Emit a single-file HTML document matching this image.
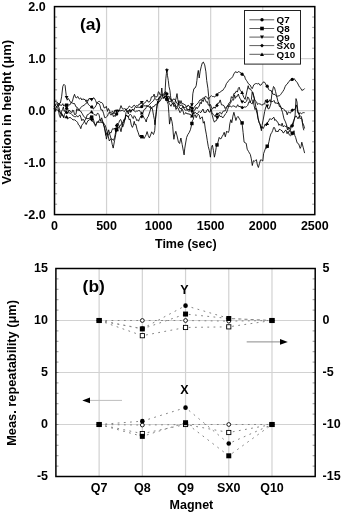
<!DOCTYPE html>
<html><head><meta charset="utf-8"><title>Figure</title>
<style>html,body{margin:0;padding:0;background:#fff;}svg{display:block;}</style>
</head><body>
<svg width="342" height="514" viewBox="0 0 342 514">
<rect width="342" height="514" fill="#fff"/>
<path d="M106.56 6.60V214.60M158.62 6.60V214.60M210.68 6.60V214.60M262.74 6.60V214.60M54.50 58.60H314.80M54.50 110.60H314.80M54.50 162.60H314.80" stroke="#d2d2d2" stroke-width="1.2" fill="none"/>
<path d="M54.50 17.00h2.6M314.80 17.00h-2.6M54.50 27.40h2.6M314.80 27.40h-2.6M54.50 37.80h2.6M314.80 37.80h-2.6M54.50 48.20h2.6M314.80 48.20h-2.6M54.50 58.60h2.6M314.80 58.60h-2.6M54.50 69.00h2.6M314.80 69.00h-2.6M54.50 79.40h2.6M314.80 79.40h-2.6M54.50 89.80h2.6M314.80 89.80h-2.6M54.50 100.20h2.6M314.80 100.20h-2.6M54.50 110.60h2.6M314.80 110.60h-2.6M54.50 121.00h2.6M314.80 121.00h-2.6M54.50 131.40h2.6M314.80 131.40h-2.6M54.50 141.80h2.6M314.80 141.80h-2.6M54.50 152.20h2.6M314.80 152.20h-2.6M54.50 162.60h2.6M314.80 162.60h-2.6M54.50 173.00h2.6M314.80 173.00h-2.6M54.50 183.40h2.6M314.80 183.40h-2.6M54.50 193.80h2.6M314.80 193.80h-2.6M54.50 204.20h2.6M314.80 204.20h-2.6" stroke="#808080" stroke-width="0.8" fill="none"/>
<polyline points="54.0,101.1 54.9,101.8 55.8,101.1 56.6,102.3 57.5,102.3 58.4,106.1 59.3,108.5 60.1,112.1 61.0,113.1 61.9,115.9 62.8,115.5 63.6,117.8 64.5,114.4 65.7,112.2 66.6,108.1 67.5,107.9 68.4,111.8 69.3,110.0 70.2,111.5 71.0,111.8 71.9,112.6 72.8,110.0 73.6,110.7 74.5,114.5 76.0,114.2 76.8,108.7 77.7,110.4 79.3,109.8 80.8,107.4 81.6,106.7 82.4,106.2 84.0,105.3 85.6,103.8 86.4,103.4 87.2,101.6 88.2,104.3 89.3,105.3 90.3,106.3 91.4,106.4 92.3,105.7 93.2,109.1 94.8,107.5 96.0,105.5 97.2,103.0 98.1,103.3 99.0,103.6 100.0,105.7 101.1,110.0 102.3,109.9 103.5,113.2 104.7,117.7 105.8,117.5 106.7,116.7 107.5,116.1 108.4,113.4 109.3,112.2 110.2,114.3 111.1,115.2 112.2,112.8 113.4,116.6 114.2,115.4 115.1,116.6 116.3,111.9 117.5,113.1 118.7,110.0 119.8,110.8 121.0,110.9 122.2,110.2 123.3,110.9 124.5,111.6 126.0,108.8 127.0,111.3 127.9,112.2 128.9,110.0 129.9,109.2 130.8,111.7 131.8,109.9 132.8,109.4 133.8,110.1 134.8,107.7 135.8,106.7 136.7,108.0 137.7,106.9 138.8,107.4 140.0,107.3 140.9,107.6 141.8,106.9 142.9,104.0 144.1,105.9 145.3,105.9 146.5,105.6 147.7,106.6 148.8,105.2 149.9,104.1 151.1,102.8 152.3,101.6 153.5,100.7 154.7,98.3 155.8,99.3 157.0,100.2 158.2,99.0 159.3,97.3 160.5,95.9 161.4,95.9 162.3,95.4 163.2,94.7 164.0,93.4 165.0,92.1 166.0,91.7 167.0,97.3 168.0,96.7 169.0,96.0 170.0,99.5 171.0,98.6 172.0,101.1 173.0,99.1 174.0,99.1 175.0,99.5 176.0,101.7 177.0,103.6 178.0,104.4 179.0,100.5 180.0,103.8 181.0,100.6 182.0,103.9 183.0,103.6 184.0,104.3 185.0,104.8 186.0,105.6 187.0,107.0 188.0,105.0 189.0,105.8 190.0,107.6 191.1,107.1 192.1,109.3 193.2,109.5 194.2,107.2 195.2,105.9 196.2,104.7 197.2,104.0 198.2,102.8 199.2,101.0 200.2,99.7 201.2,100.5 202.3,98.4 203.3,97.9 204.3,98.5 205.3,96.3 206.3,96.9 207.3,97.6 208.3,99.3 209.4,97.8 210.4,96.6 211.4,95.6 212.4,96.6 213.4,96.4 214.0,97.1 215.2,96.5 216.5,95.3 217.5,94.1 218.6,92.6 219.6,92.5 220.6,92.0 221.7,90.6 222.7,90.5 223.9,88.7 225.2,87.0 226.4,83.6 227.7,82.0 228.9,80.4 230.2,79.0 231.4,78.3 232.7,76.7 233.9,73.9 235.2,72.0 236.1,71.6 237.0,72.9 238.2,71.6 239.5,72.0 240.8,72.7 242.0,74.6 243.2,75.4 244.5,75.9 245.4,78.9 246.4,80.4 247.3,81.7 248.2,83.5 249.1,84.2 250.1,85.0 251.1,87.1 252.2,88.7 253.0,86.8 253.8,84.8 255.4,83.7 256.5,83.5 257.6,83.9 258.7,83.3 259.8,85.1 260.9,85.2 262.0,83.7 263.1,82.2 264.2,81.9 265.2,83.1 266.3,85.6 267.4,85.6 268.5,89.4 269.4,90.1 270.2,90.6 271.0,90.2 271.8,92.3 272.9,94.2 274.0,94.3 275.1,94.5 276.1,95.9 277.0,96.4 277.8,96.0 279.4,95.8 280.5,94.7 281.6,93.2 282.8,91.5 284.0,89.6 285.1,86.7 286.2,84.8 287.3,84.0 288.3,82.2 289.2,81.6 290.2,79.8 291.2,80.5 292.2,79.5 293.1,80.0 294.1,78.5 295.1,80.0 296.0,81.2 297.0,82.2 298.0,84.0 298.9,85.9 299.9,87.5 300.9,88.4 301.9,90.5 302.9,89.9 303.8,89.5 304.6,88.5" fill="none" stroke="#000" stroke-width="0.85" stroke-linejoin="round"/>
<circle cx="66.6" cy="108.3" r="1.6" fill="#000"/>
<circle cx="91.7" cy="107.0" r="1.6" fill="#000"/>
<circle cx="116.7" cy="114.1" r="1.6" fill="#000"/>
<circle cx="141.8" cy="106.6" r="1.6" fill="#000"/>
<circle cx="166.9" cy="93.8" r="1.6" fill="#000"/>
<circle cx="191.9" cy="108.0" r="1.6" fill="#000"/>
<circle cx="217.0" cy="94.8" r="1.6" fill="#000"/>
<circle cx="242.1" cy="74.2" r="1.6" fill="#000"/>
<circle cx="267.2" cy="86.2" r="1.6" fill="#000"/>
<circle cx="292.2" cy="79.4" r="1.6" fill="#000"/>
<polyline points="54.0,106.9 55.0,105.6 55.9,105.6 56.9,107.3 57.9,104.8 58.8,103.1 59.8,105.3 60.8,105.0 61.8,105.4 62.8,103.7 63.8,106.2 64.7,104.9 65.7,105.8 66.6,105.6 67.8,105.0 69.0,105.0 70.2,104.6 71.4,102.0 73.0,103.6 74.5,103.5 76.0,106.9 77.5,107.6 79.0,110.3 80.5,111.0 82.0,113.3 83.5,116.0 85.0,117.8 86.5,118.6 88.0,118.6 89.5,118.5 90.5,116.3 91.4,116.2 92.3,119.1 93.2,118.5 94.4,123.1 95.6,125.1 96.4,123.6 97.2,122.1 98.1,121.8 99.0,122.6 100.0,121.9 101.1,122.5 102.3,122.3 103.5,122.8 104.3,124.2 105.2,125.2 106.4,128.8 107.5,132.7 108.4,135.1 109.3,134.3 110.2,132.4 111.1,132.8 111.9,130.2 112.8,128.4 113.7,129.2 114.6,128.1 115.8,132.0 116.9,129.4 117.8,126.5 118.7,127.7 119.6,126.3 120.4,125.7 121.6,123.6 122.7,122.9 123.9,119.4 125.1,119.4 126.0,115.1 127.2,115.8 128.3,116.5 129.2,119.9 130.1,118.9 131.3,125.1 132.4,127.4 133.3,125.4 134.2,121.3 135.1,124.9 135.9,124.3 137.1,129.7 138.3,132.8 139.5,136.7 140.3,135.1 141.2,136.4 142.1,137.2 143.0,136.0 144.1,138.5 145.3,136.4 146.2,134.6 147.1,131.6 148.2,135.4 149.4,137.9 150.6,135.0 151.7,131.8 152.6,133.4 153.5,134.5 154.7,130.7 155.2,124.1 155.8,116.2 156.4,111.5 157.0,106.7 157.8,101.5 158.7,98.9 159.9,97.0 161.1,95.7 161.9,94.2 162.8,95.7 163.7,95.3 164.6,93.9 166.0,93.1 167.1,101.7 168.2,104.3 168.9,113.7 169.5,124.1 170.8,117.0 172.0,121.7 172.7,126.3 173.3,134.0 173.9,139.3 174.6,134.8 175.8,131.3 177.1,136.0 178.4,142.0 179.6,143.5 180.9,138.0 182.2,144.6 183.4,151.2 184.1,154.9 184.7,148.9 185.3,145.0 186.6,137.5 187.8,134.6 189.1,132.7 190.4,129.8 191.6,124.9 192.3,120.8 193.2,119.5 194.2,115.3 195.2,114.8 196.2,117.7 197.2,115.6 198.2,114.2 199.2,115.2 200.2,119.1 201.2,117.6 202.3,116.9 203.3,123.2 204.3,121.5 205.3,128.9 206.3,134.2 207.3,140.7 208.3,146.6 209.4,150.7 210.4,157.2 211.4,147.4 212.4,145.2 213.4,150.3 214.4,157.2 215.4,152.7 216.2,147.5 217.1,145.3 218.1,141.8 219.2,137.4 220.2,138.8 221.2,138.6 222.2,136.3 223.2,134.8 224.2,132.3 225.3,136.8 226.7,131.1 228.2,132.6 229.0,130.8 229.8,123.9 230.8,119.7 231.8,122.7 232.9,116.1 233.9,112.3 234.9,116.3 235.9,120.5 236.9,117.6 238.0,116.4 239.0,118.1 240.0,119.8 241.1,121.6 242.1,123.4 243.1,132.5 244.1,142.1 245.1,142.8 246.2,143.3 247.2,149.2 248.6,151.6 249.4,153.0 250.3,154.4 251.3,158.8 252.3,165.5 253.4,160.7 254.4,161.2 255.4,160.5 256.4,159.7 257.4,165.1 258.4,167.5 259.4,163.7 260.5,159.9 261.6,160.1 262.8,161.0 263.6,153.6 264.5,151.1 265.7,147.7 266.9,148.2 267.9,146.0 269.0,141.5 269.9,137.2 270.8,134.0 271.8,132.5 272.7,130.4 273.6,127.5 274.6,127.7 275.8,131.7 277.0,131.0 278.0,131.9 279.0,129.6 280.0,129.2 281.0,130.4 282.0,130.6 283.0,132.8 284.0,132.6 285.0,130.6 286.0,130.1 287.1,133.8 288.1,131.3 289.2,134.8 290.4,135.7 291.7,134.8 292.9,134.7 294.0,130.7 294.8,135.6 295.6,137.3 297.1,142.8 298.7,143.9 300.2,148.4 301.0,146.7 301.8,142.2 303.3,147.9 304.6,153.1" fill="none" stroke="#000" stroke-width="0.85" stroke-linejoin="round"/>
<rect x="64.9" y="103.5" width="3.4" height="3.4" fill="#000"/>
<rect x="90.0" y="115.4" width="3.4" height="3.4" fill="#000"/>
<rect x="115.0" y="128.0" width="3.4" height="3.4" fill="#000"/>
<rect x="140.1" y="135.0" width="3.4" height="3.4" fill="#000"/>
<rect x="165.2" y="97.5" width="3.4" height="3.4" fill="#000"/>
<rect x="190.2" y="121.8" width="3.4" height="3.4" fill="#000"/>
<rect x="215.3" y="143.2" width="3.4" height="3.4" fill="#000"/>
<rect x="240.4" y="121.2" width="3.4" height="3.4" fill="#000"/>
<rect x="265.5" y="144.5" width="3.4" height="3.4" fill="#000"/>
<rect x="290.5" y="131.4" width="3.4" height="3.4" fill="#000"/>
<polyline points="54.0,104.6 55.1,104.9 56.3,103.6 57.5,105.1 58.7,106.1 59.5,103.1 60.4,103.0 61.6,96.8 62.8,86.4 63.9,84.3 65.1,85.5 65.7,91.1 66.3,95.8 67.2,100.2 68.2,98.4 69.3,100.0 70.3,101.9 71.3,102.8 72.4,101.3 73.5,97.0 74.5,94.3 75.6,97.5 76.7,97.9 77.7,96.4 79.3,99.1 80.8,97.9 81.8,100.0 82.9,98.7 84.0,99.6 85.0,99.4 86.1,101.8 86.9,99.8 87.7,101.3 89.3,98.2 90.3,99.5 91.4,99.3 92.5,99.2 93.5,97.7 94.5,98.4 95.6,100.6 96.7,103.4 97.7,102.0 98.6,101.5 99.6,101.3 100.5,102.6 101.7,102.5 102.9,103.9 104.1,107.9 105.2,107.8 106.3,106.3 107.5,111.4 108.4,108.5 109.3,110.2 110.4,112.9 111.6,112.0 112.8,111.2 114.0,114.1 114.8,110.1 115.7,111.3 116.6,110.0 117.5,109.9 118.7,111.7 119.8,109.2 121.0,105.6 122.2,108.5 123.3,109.0 124.5,108.6 126.0,109.6 127.2,109.1 128.3,107.7 129.3,106.0 130.3,106.7 131.3,107.7 132.3,107.4 133.2,105.9 134.2,105.1 135.3,106.5 136.5,105.6 137.7,106.1 138.9,104.2 140.1,104.2 141.2,102.0 142.3,103.5 143.5,103.4 144.7,103.1 145.9,101.7 147.1,99.9 148.2,102.0 149.4,102.0 150.6,100.1 151.4,96.9 152.3,96.7 153.2,96.5 154.1,94.1 154.9,97.6 155.8,96.3 156.7,97.1 157.6,95.4 158.4,91.7 159.3,92.5 160.2,95.0 161.1,94.6 161.8,88.0 162.5,95.6 163.8,98.4 164.7,97.3 165.3,87.9 165.8,78.8 166.4,73.5 166.8,68.6 167.5,75.7 168.3,80.6 169.0,86.6 169.9,90.3 170.5,95.8 171.3,101.6 172.5,103.5 173.5,104.5 175.0,102.5 176.3,97.3 177.0,93.6 177.8,99.5 179.0,106.4 180.0,108.6 181.0,108.5 182.0,108.4 183.0,105.9 184.0,108.9 185.0,109.8 186.0,110.4 187.0,109.6 188.0,110.5 189.0,111.6 190.0,107.1 191.0,105.5 192.1,105.9 192.8,93.8 193.9,88.7 195.1,88.0 196.2,85.7 196.9,80.6 197.6,74.0 198.3,70.4 199.2,78.0 200.2,71.1 201.2,66.8 202.3,62.9 203.3,62.0 204.7,64.8 205.9,71.8 206.7,80.5 207.9,88.3 208.7,96.6 209.4,103.4 210.4,108.8 211.4,112.7 212.4,115.8 213.4,119.7 214.4,122.2 215.4,120.8 216.4,120.6 217.1,118.6 218.1,118.3 219.2,114.6 220.2,116.7 221.4,116.0 222.7,118.0 223.9,116.3 225.2,114.2 226.4,113.0 227.7,109.3 228.9,105.7 230.2,103.6 231.4,101.4 232.7,99.3 233.6,100.2 234.5,94.8 235.4,98.3 236.4,96.3 237.4,96.3 238.3,94.0 239.2,96.7 240.2,98.9 241.1,100.0 242.0,101.6 242.9,101.6 243.9,101.7 244.9,103.0 245.8,101.7 246.7,101.1 247.6,97.0 248.6,97.7 249.5,100.6 250.4,102.3 251.4,103.5 252.3,103.8 253.1,99.6 254.0,105.3 255.0,109.6 256.0,108.2 257.0,110.1 258.0,117.7 259.1,122.6 260.3,124.3 261.4,130.7 262.0,125.6 263.1,120.2 264.7,111.4 265.8,107.0 267.0,105.1 268.1,108.9 269.3,108.5 270.8,103.9 271.8,94.4 272.7,90.1 273.5,86.5 274.5,87.7 275.5,91.4 276.5,95.6 278.0,101.6 279.5,104.2 281.0,107.9 282.5,112.3 284.0,118.9 285.5,121.9 287.0,126.4 288.5,128.7 290.0,131.9 291.2,126.8 292.1,126.5 293.1,124.6 294.1,120.1 295.1,115.1 296.0,98.6 297.0,101.9 298.0,113.2 298.9,112.7 299.9,118.6 300.9,118.1 301.9,119.1 302.9,126.7 303.8,130.3" fill="none" stroke="#000" stroke-width="0.85" stroke-linejoin="round"/>
<path d="M64.7 95.9H68.5L66.6 99.2Z" fill="#000"/>
<path d="M89.8 98.1H93.6L91.7 101.4Z" fill="#000"/>
<path d="M114.8 109.7H118.6L116.7 113.0Z" fill="#000"/>
<path d="M139.9 101.0H143.7L141.8 104.3Z" fill="#000"/>
<path d="M165.0 69.2H168.8L166.9 72.5Z" fill="#000"/>
<path d="M190.0 103.3H193.8L191.9 106.6Z" fill="#000"/>
<path d="M215.1 116.0H218.9L217.0 119.3Z" fill="#000"/>
<path d="M240.2 100.5H244.0L242.1 103.8Z" fill="#000"/>
<path d="M265.3 104.6H269.1L267.2 107.9Z" fill="#000"/>
<path d="M290.3 124.8H294.1L292.2 128.1Z" fill="#000"/>
<polyline points="54.0,110.4 55.1,110.3 56.3,106.8 57.2,107.6 58.1,108.1 59.3,115.2 60.4,117.7 61.6,111.3 62.5,109.4 63.4,107.0 64.2,111.4 65.1,110.6 66.6,112.2 67.5,113.4 68.5,112.7 70.0,113.1 71.0,113.5 72.0,114.6 73.2,116.0 74.5,116.6 75.5,116.9 76.6,115.5 77.7,117.1 78.7,116.1 79.8,114.9 80.8,117.2 81.8,120.7 82.9,119.2 84.0,120.2 85.1,122.5 86.2,124.5 87.2,122.1 88.1,120.5 89.0,120.4 90.2,119.0 91.4,119.4 92.3,121.4 93.2,121.4 94.8,124.7 95.6,126.3 96.4,124.1 97.2,121.6 98.1,122.5 99.0,120.2 100.0,119.4 100.8,120.5 101.7,121.0 102.6,122.1 103.5,124.2 104.6,128.9 105.8,135.4 107.0,132.5 108.1,135.8 109.3,141.0 110.2,139.5 111.1,138.9 112.2,139.0 113.4,140.4 114.6,137.5 115.7,132.0 116.3,125.7 117.5,123.0 118.7,124.8 119.8,127.6 121.0,131.7 122.2,125.2 123.3,122.0 124.2,121.3 125.1,118.4 126.0,115.2 127.2,116.0 128.3,117.2 129.5,114.7 130.7,114.5 131.6,115.7 132.4,117.8 133.3,118.6 134.2,115.7 135.1,116.7 135.9,118.3 136.8,120.7 137.7,119.7 138.6,121.2 139.5,118.6 140.7,116.6 141.8,116.1 142.7,115.1 143.5,117.0 144.4,118.5 145.3,119.5 146.2,122.0 147.1,118.0 148.2,116.6 149.4,113.1 150.3,110.3 151.2,107.3 152.4,108.7 153.5,115.3 154.4,119.6 154.9,124.8 155.4,119.6 156.0,114.5 156.6,108.3 157.6,101.2 158.4,103.3 159.3,99.3 160.2,97.8 161.1,97.6 162.2,96.5 163.4,97.6 164.3,97.9 165.1,96.0 166.0,96.5 167.0,95.9 168.0,99.8 169.0,102.0 170.0,101.3 171.0,101.3 172.0,100.5 173.0,101.8 174.0,104.2 175.0,103.5 176.0,106.8 177.0,107.0 178.0,104.8 179.0,104.1 180.0,105.6 181.0,105.1 182.0,105.1 183.0,106.4 184.0,107.9 185.0,107.5 186.0,106.7 187.0,109.5 188.0,109.0 189.0,110.0 190.0,109.3 191.6,110.7 192.8,116.1 194.0,110.2 195.1,109.9 196.1,107.2 197.2,108.8 198.2,106.9 199.2,106.3 200.2,102.3 201.2,103.9 202.3,99.8 203.3,101.5 204.3,97.8 205.3,99.5 206.3,102.2 207.3,101.5 208.4,105.1 209.4,105.9 210.4,104.5 211.4,106.8 212.4,109.2 214.0,106.9 215.2,108.3 216.5,105.4 217.8,103.2 219.0,103.1 220.2,99.9 221.5,104.9 222.8,105.0 224.0,105.7 225.2,108.5 226.5,106.9 227.7,105.4 228.9,106.6 230.2,105.8 231.4,107.1 232.7,106.0 233.9,105.9 235.2,106.8 236.4,107.3 237.7,104.7 238.9,106.8 240.2,106.2 241.4,107.4 242.7,108.7 243.9,106.8 245.2,107.2 246.4,106.7 247.7,105.4 248.9,101.8 250.2,102.4 251.4,99.5 252.2,92.0 253.3,95.2 254.9,100.3 256.5,101.8 257.6,104.6 258.7,103.5 259.8,104.0 260.9,104.2 262.0,105.4 263.1,104.0 264.7,104.0 265.5,99.9 266.3,101.9 267.2,99.1 268.2,101.4 269.1,101.5 270.0,99.6 270.9,102.2 271.8,101.3 272.9,101.6 274.0,100.4 275.1,103.3 276.1,102.5 277.2,103.9 278.3,102.3 279.4,106.6 280.5,106.2 281.6,108.5 283.1,108.5 284.1,109.5 285.2,111.1 286.2,111.1 287.2,114.8 288.3,111.9 289.3,112.5 290.5,113.1 291.7,110.4 292.9,108.9 294.0,110.1 295.1,108.8 296.3,104.9 297.9,112.0 299.0,114.4 300.2,112.6 301.4,113.9 302.6,112.9 303.6,112.6 304.6,112.7" fill="none" stroke="#000" stroke-width="0.85" stroke-linejoin="round"/>
<path d="M66.6 110.7L68.4 112.5L66.6 114.3L64.8 112.5Z" fill="#000"/>
<path d="M91.7 117.8L93.5 119.6L91.7 121.4L89.9 119.6Z" fill="#000"/>
<path d="M116.7 123.6L118.5 125.4L116.7 127.2L114.9 125.4Z" fill="#000"/>
<path d="M141.8 114.8L143.6 116.6L141.8 118.4L140.0 116.6Z" fill="#000"/>
<path d="M166.9 96.4L168.7 98.2L166.9 100.0L165.1 98.2Z" fill="#000"/>
<path d="M191.9 109.1L193.8 110.9L191.9 112.7L190.1 110.9Z" fill="#000"/>
<path d="M217.0 103.6L218.8 105.4L217.0 107.2L215.2 105.4Z" fill="#000"/>
<path d="M242.1 105.7L243.9 107.5L242.1 109.3L240.3 107.5Z" fill="#000"/>
<path d="M267.2 100.0L269.0 101.8L267.2 103.6L265.4 101.8Z" fill="#000"/>
<path d="M292.2 108.5L294.0 110.3L292.2 112.1L290.4 110.3Z" fill="#000"/>
<polyline points="54.0,108.1 55.1,111.6 56.3,108.8 57.5,110.3 58.7,111.1 59.5,111.0 60.4,113.7 61.3,113.4 62.2,113.8 63.0,116.1 63.9,116.4 64.8,117.3 65.7,117.0 66.6,116.2 67.5,119.0 68.5,118.1 70.0,117.3 71.5,118.5 73.0,119.9 74.5,119.8 76.0,120.8 77.5,122.3 78.5,124.9 79.5,125.5 80.8,128.7 81.8,125.1 83.0,123.8 84.0,122.1 85.0,120.1 86.1,118.4 87.2,114.8 88.2,114.5 89.2,113.7 90.2,112.6 91.4,111.2 92.3,113.5 93.1,113.4 94.0,114.6 95.2,114.9 96.4,115.5 97.3,113.4 98.1,113.3 99.0,114.7 100.5,121.2 101.7,117.8 102.9,122.0 103.8,125.6 104.6,127.0 105.8,133.5 106.4,139.1 107.5,134.7 108.7,129.8 109.9,134.7 111.1,138.9 112.2,144.3 113.2,148.1 114.6,140.4 115.7,134.6 116.9,128.1 118.1,123.6 118.9,122.5 119.8,120.2 120.7,119.5 121.6,121.9 122.7,127.1 123.9,123.8 125.1,118.6 126.0,112.5 127.2,110.6 128.3,114.0 129.5,110.0 130.7,112.4 131.8,109.8 133.0,109.6 134.2,111.0 135.4,111.8 136.6,111.1 137.7,111.1 138.6,110.5 139.5,110.5 140.7,112.4 141.8,113.9 142.7,113.6 143.5,110.8 144.4,109.3 145.3,109.1 146.2,107.6 147.1,105.6 148.2,106.3 149.4,107.5 150.2,105.9 151.1,108.9 152.0,107.4 152.9,106.7 154.1,106.6 155.2,104.7 156.1,104.8 157.0,103.5 157.8,102.8 158.7,101.5 159.9,101.3 161.1,99.1 162.2,97.9 163.4,98.0 164.3,98.0 165.1,96.0 166.0,96.7 167.0,97.8 168.0,100.9 169.0,103.1 170.0,104.8 171.0,106.3 172.0,103.6 173.0,103.6 174.0,106.7 175.0,105.0 176.0,109.5 177.0,107.5 178.0,108.0 179.0,110.3 180.0,112.7 181.0,111.3 182.0,109.0 183.0,111.0 184.0,114.5 185.0,113.4 186.0,112.5 187.0,114.0 188.0,113.5 189.0,114.3 190.0,114.0 191.6,116.3 193.0,112.7 194.0,113.9 195.0,112.1 196.0,113.3 197.0,113.9 198.0,112.9 199.0,111.4 200.0,112.4 201.0,112.4 202.0,110.6 203.0,109.0 204.0,112.6 205.0,112.1 206.0,112.5 207.0,109.9 208.0,109.1 209.0,112.0 210.0,112.1 211.0,108.8 212.0,112.5 213.0,114.1 214.0,115.5 215.2,116.4 216.5,113.9 217.8,113.9 219.0,113.1 220.2,112.3 221.5,114.2 222.8,111.5 224.0,110.9 225.2,110.9 226.5,107.6 227.7,106.3 228.9,103.1 230.2,102.3 231.4,96.6 232.7,98.3 233.9,93.5 235.2,93.2 236.4,90.9 237.4,92.1 238.3,88.3 239.2,87.2 240.2,90.5 241.1,91.2 242.0,92.2 242.9,95.0 243.9,97.4 245.1,99.4 246.1,95.2 247.0,90.9 248.2,85.7 249.1,89.1 250.1,88.5 251.1,90.2 252.0,91.4 253.0,92.6 254.0,97.0 255.2,103.0 256.4,110.9 257.2,113.9 258.0,118.7 258.8,121.3 259.6,123.6 261.0,128.2 262.0,126.4 263.1,128.6 264.2,126.7 265.2,123.9 266.3,126.0 267.1,123.0 268.0,122.2 268.8,120.8 269.6,118.8 270.7,119.0 271.8,119.4 272.9,118.0 274.0,117.3 274.8,120.5 275.6,119.6 277.2,121.9 278.0,122.4 278.9,125.4 279.7,124.2 280.5,125.2 281.3,125.9 282.1,123.2 283.2,126.9 284.4,125.6 285.4,126.7 286.4,125.7 287.5,129.9 288.5,127.0 289.6,128.9 290.7,125.7 291.8,126.2 292.9,122.6 293.9,120.1 294.9,117.6 296.0,115.8 297.0,117.1 298.0,118.9 299.1,116.2 300.3,116.0 301.4,116.5 302.5,122.6 303.6,124.9 304.6,128.5" fill="none" stroke="#000" stroke-width="0.85" stroke-linejoin="round"/>
<path d="M64.7 118.2H68.5L66.6 114.9Z" fill="#000"/>
<path d="M89.8 113.3H93.6L91.7 110.0Z" fill="#000"/>
<path d="M114.8 130.9H118.6L116.7 127.6Z" fill="#000"/>
<path d="M139.9 114.6H143.7L141.8 111.3Z" fill="#000"/>
<path d="M165.0 100.1H168.8L166.9 96.8Z" fill="#000"/>
<path d="M190.0 117.5H193.8L191.9 114.2Z" fill="#000"/>
<path d="M215.1 115.6H218.9L217.0 112.3Z" fill="#000"/>
<path d="M240.2 93.9H244.0L242.1 90.6Z" fill="#000"/>
<path d="M265.3 125.0H269.1L267.2 121.7Z" fill="#000"/>
<path d="M290.3 126.6H294.1L292.2 123.3Z" fill="#000"/>
<rect x="54.50" y="6.60" width="260.30" height="208.00" fill="none" stroke="#000" stroke-width="1.5"/>
<rect x="244.5" y="10.5" width="56" height="53.6" fill="#fff" stroke="#222" stroke-width="1"/>
<path d="M249.4 19.8H274.2" stroke="#333" stroke-width="0.8"/>
<circle cx="262" cy="19.8" r="1.7" fill="#000"/>
<text x="276.6" y="23.3" font-family="'Liberation Sans', sans-serif" font-weight="bold" font-size="9.8">Q7</text>
<path d="M249.4 28.5H274.2" stroke="#333" stroke-width="0.8"/>
<rect x="260.2" y="26.7" width="3.6" height="3.6" fill="#000"/>
<text x="276.6" y="32.0" font-family="'Liberation Sans', sans-serif" font-weight="bold" font-size="9.8">Q8</text>
<path d="M249.4 37.1H274.2" stroke="#333" stroke-width="0.8"/>
<path d="M260 35.5H264L262 39.0Z" fill="#000"/>
<text x="276.6" y="40.6" font-family="'Liberation Sans', sans-serif" font-weight="bold" font-size="9.8">Q9</text>
<path d="M249.4 45.6H274.2" stroke="#333" stroke-width="0.8"/>
<path d="M262 43.7L263.9 45.6L262 47.5L260.1 45.6Z" fill="#000"/>
<text x="276.6" y="49.1" font-family="'Liberation Sans', sans-serif" font-weight="bold" font-size="9.8">SX0</text>
<path d="M249.4 54.3H274.2" stroke="#333" stroke-width="0.8"/>
<path d="M260 55.9H264L262 52.4Z" fill="#000"/>
<text x="276.6" y="57.8" font-family="'Liberation Sans', sans-serif" font-weight="bold" font-size="9.8">Q10</text>
<g font-family="'Liberation Sans', sans-serif" font-weight="bold" font-size="12.5" fill="#000">
<text x="45.6" y="11.00" text-anchor="end">2.0</text>
<text x="45.6" y="63.00" text-anchor="end">1.0</text>
<text x="45.6" y="115.00" text-anchor="end">0.0</text>
<text x="45.6" y="167.00" text-anchor="end">-1.0</text>
<text x="45.6" y="219.00" text-anchor="end">-2.0</text>
<text x="54.50" y="230.4" text-anchor="middle">0</text>
<text x="106.56" y="230.4" text-anchor="middle">500</text>
<text x="158.62" y="230.4" text-anchor="middle">1000</text>
<text x="210.68" y="230.4" text-anchor="middle">1500</text>
<text x="262.74" y="230.4" text-anchor="middle">2000</text>
<text x="314.80" y="230.4" text-anchor="middle">2500</text>
<text x="185.8" y="248.2" text-anchor="middle">Time (sec)</text>
</g>
<text x="11.2" y="112.2" transform="rotate(-90 11.2 112.2)" text-anchor="middle" font-family="'Liberation Sans', sans-serif" font-weight="bold" font-size="13">Variation in height (μm)</text>
<text x="79.9" y="30.1" font-family="'Liberation Sans', sans-serif" font-weight="bold" font-size="17.4">(a)</text>
<path d="M99.12 268.50V476.50M142.33 268.50V476.50M185.55 268.50V476.50M228.77 268.50V476.50M271.98 268.50V476.50M55.90 320.50H315.20M55.90 372.50H315.20M55.90 424.50H315.20" stroke="#d2d2d2" stroke-width="1.2" fill="none"/>
<path d="M55.90 278.90h2.6M315.20 278.90h-2.6M55.90 289.30h2.6M315.20 289.30h-2.6M55.90 299.70h2.6M315.20 299.70h-2.6M55.90 310.10h2.6M315.20 310.10h-2.6M55.90 320.50h2.6M315.20 320.50h-2.6M55.90 330.90h2.6M315.20 330.90h-2.6M55.90 341.30h2.6M315.20 341.30h-2.6M55.90 351.70h2.6M315.20 351.70h-2.6M55.90 362.10h2.6M315.20 362.10h-2.6M55.90 372.50h2.6M315.20 372.50h-2.6M55.90 382.90h2.6M315.20 382.90h-2.6M55.90 393.30h2.6M315.20 393.30h-2.6M55.90 403.70h2.6M315.20 403.70h-2.6M55.90 414.10h2.6M315.20 414.10h-2.6M55.90 424.50h2.6M315.20 424.50h-2.6M55.90 434.90h2.6M315.20 434.90h-2.6M55.90 445.30h2.6M315.20 445.30h-2.6M55.90 455.70h2.6M315.20 455.70h-2.6M55.90 466.10h2.6M315.20 466.10h-2.6" stroke="#808080" stroke-width="0.8" fill="none"/>
<polyline points="99.12,320.50 142.33,320.50 185.55,320.50 228.77,321.12 271.98,320.50" fill="none" stroke="#858585" stroke-width="1" stroke-dasharray="1.8 4.4"/>
<polyline points="99.12,320.50 142.33,335.68 185.55,327.47 228.77,326.84 271.98,320.50" fill="none" stroke="#858585" stroke-width="1" stroke-dasharray="1.8 4.4"/>
<polyline points="99.12,320.50 142.33,328.92 185.55,314.05 228.77,318.52 271.98,320.50" fill="none" stroke="#858585" stroke-width="1" stroke-dasharray="1.8 4.4"/>
<polyline points="99.12,320.50 142.33,328.61 185.55,305.63 228.77,318.42 271.98,320.50" fill="none" stroke="#858585" stroke-width="1" stroke-dasharray="1.8 4.4"/>
<polyline points="99.12,424.50 142.33,425.02 185.55,424.50 228.77,424.50 271.98,424.50" fill="none" stroke="#858585" stroke-width="1" stroke-dasharray="1.8 4.4"/>
<polyline points="99.12,424.50 142.33,433.65 185.55,424.50 228.77,432.51 271.98,424.50" fill="none" stroke="#858585" stroke-width="1" stroke-dasharray="1.8 4.4"/>
<polyline points="99.12,424.50 142.33,436.36 185.55,422.73 228.77,455.80 271.98,424.50" fill="none" stroke="#858585" stroke-width="1" stroke-dasharray="1.8 4.4"/>
<polyline points="99.12,424.50 142.33,421.17 185.55,407.65 228.77,443.53 271.98,424.50" fill="none" stroke="#858585" stroke-width="1" stroke-dasharray="1.8 4.4"/>
<circle cx="99.12" cy="320.50" r="1.9" fill="#fff" stroke="#000" stroke-width="0.9"/>
<circle cx="142.33" cy="320.50" r="1.9" fill="#fff" stroke="#000" stroke-width="0.9"/>
<circle cx="185.55" cy="320.50" r="1.9" fill="#fff" stroke="#000" stroke-width="0.9"/>
<circle cx="228.77" cy="321.12" r="1.9" fill="#fff" stroke="#000" stroke-width="0.9"/>
<circle cx="271.98" cy="320.50" r="1.9" fill="#fff" stroke="#000" stroke-width="0.9"/>
<rect x="97.02" y="318.40" width="4.2" height="4.2" fill="#fff" stroke="#000" stroke-width="0.9"/>
<rect x="140.23" y="333.58" width="4.2" height="4.2" fill="#fff" stroke="#000" stroke-width="0.9"/>
<rect x="183.45" y="325.37" width="4.2" height="4.2" fill="#fff" stroke="#000" stroke-width="0.9"/>
<rect x="226.67" y="324.74" width="4.2" height="4.2" fill="#fff" stroke="#000" stroke-width="0.9"/>
<rect x="269.88" y="318.40" width="4.2" height="4.2" fill="#fff" stroke="#000" stroke-width="0.9"/>
<circle cx="99.12" cy="320.50" r="2.3" fill="#000"/>
<circle cx="142.33" cy="328.61" r="2.3" fill="#000"/>
<circle cx="185.55" cy="305.63" r="2.3" fill="#000"/>
<circle cx="228.77" cy="318.42" r="2.3" fill="#000"/>
<circle cx="271.98" cy="320.50" r="2.3" fill="#000"/>
<rect x="96.62" y="318.00" width="5" height="5" fill="#000"/>
<rect x="139.83" y="326.42" width="5" height="5" fill="#000"/>
<rect x="183.05" y="311.55" width="5" height="5" fill="#000"/>
<rect x="226.27" y="316.02" width="5" height="5" fill="#000"/>
<rect x="269.48" y="318.00" width="5" height="5" fill="#000"/>
<circle cx="99.12" cy="424.50" r="1.9" fill="#fff" stroke="#000" stroke-width="0.9"/>
<circle cx="142.33" cy="425.02" r="1.9" fill="#fff" stroke="#000" stroke-width="0.9"/>
<circle cx="185.55" cy="424.50" r="1.9" fill="#fff" stroke="#000" stroke-width="0.9"/>
<circle cx="228.77" cy="424.50" r="1.9" fill="#fff" stroke="#000" stroke-width="0.9"/>
<circle cx="271.98" cy="424.50" r="1.9" fill="#fff" stroke="#000" stroke-width="0.9"/>
<rect x="97.02" y="422.40" width="4.2" height="4.2" fill="#fff" stroke="#000" stroke-width="0.9"/>
<rect x="140.23" y="431.55" width="4.2" height="4.2" fill="#fff" stroke="#000" stroke-width="0.9"/>
<rect x="183.45" y="422.40" width="4.2" height="4.2" fill="#fff" stroke="#000" stroke-width="0.9"/>
<rect x="226.67" y="430.41" width="4.2" height="4.2" fill="#fff" stroke="#000" stroke-width="0.9"/>
<rect x="269.88" y="422.40" width="4.2" height="4.2" fill="#fff" stroke="#000" stroke-width="0.9"/>
<circle cx="99.12" cy="424.50" r="2.3" fill="#000"/>
<circle cx="142.33" cy="421.17" r="2.3" fill="#000"/>
<circle cx="185.55" cy="407.65" r="2.3" fill="#000"/>
<circle cx="228.77" cy="443.53" r="2.3" fill="#000"/>
<circle cx="271.98" cy="424.50" r="2.3" fill="#000"/>
<rect x="96.62" y="422.00" width="5" height="5" fill="#000"/>
<rect x="139.83" y="433.86" width="5" height="5" fill="#000"/>
<rect x="183.05" y="420.23" width="5" height="5" fill="#000"/>
<rect x="226.27" y="453.30" width="5" height="5" fill="#000"/>
<rect x="269.48" y="422.00" width="5" height="5" fill="#000"/>
<path d="M89.5 400.4H122" stroke="#bdbdbd" stroke-width="1" fill="none"/>
<path d="M82.3 400.4L90 397.6L90 403.2Z" fill="#000"/>
<path d="M246.7 341.9H281" stroke="#8a8a8a" stroke-width="1" fill="none"/>
<path d="M287.8 341.9L280 339.1L280 344.7Z" fill="#000"/>
<rect x="55.90" y="268.50" width="259.30" height="208.00" fill="none" stroke="#000" stroke-width="1.5"/>
<g font-family="'Liberation Sans', sans-serif" font-weight="bold" font-size="12.5" fill="#000">
<text x="48.0" y="272.40" text-anchor="end">15</text>
<text x="48.0" y="324.40" text-anchor="end">10</text>
<text x="48.0" y="376.40" text-anchor="end">5</text>
<text x="48.0" y="428.40" text-anchor="end">0</text>
<text x="48.0" y="480.40" text-anchor="end">-5</text>
<text x="322.6" y="272.30">5</text>
<text x="322.6" y="324.30">0</text>
<text x="322.6" y="376.30">-5</text>
<text x="322.6" y="428.30">-10</text>
<text x="322.6" y="480.30">-15</text>
<text x="99.12" y="491.6" text-anchor="middle">Q7</text>
<text x="142.33" y="491.6" text-anchor="middle">Q8</text>
<text x="185.55" y="491.6" text-anchor="middle">Q9</text>
<text x="228.77" y="491.6" text-anchor="middle">SX0</text>
<text x="271.98" y="491.6" text-anchor="middle">Q10</text>
<text x="191.4" y="509.4" text-anchor="middle">Magnet</text>
<text x="184.4" y="293.8" text-anchor="middle">Y</text>
<text x="184.4" y="394.4" text-anchor="middle">X</text>
</g>
<text x="15.6" y="372.9" transform="rotate(-90 15.6 372.9)" text-anchor="middle" font-family="'Liberation Sans', sans-serif" font-weight="bold" font-size="12.8">Meas. repeatability (μm)</text>
<text x="82.6" y="291.6" font-family="'Liberation Sans', sans-serif" font-weight="bold" font-size="17.4">(b)</text>
</svg>
</body></html>
